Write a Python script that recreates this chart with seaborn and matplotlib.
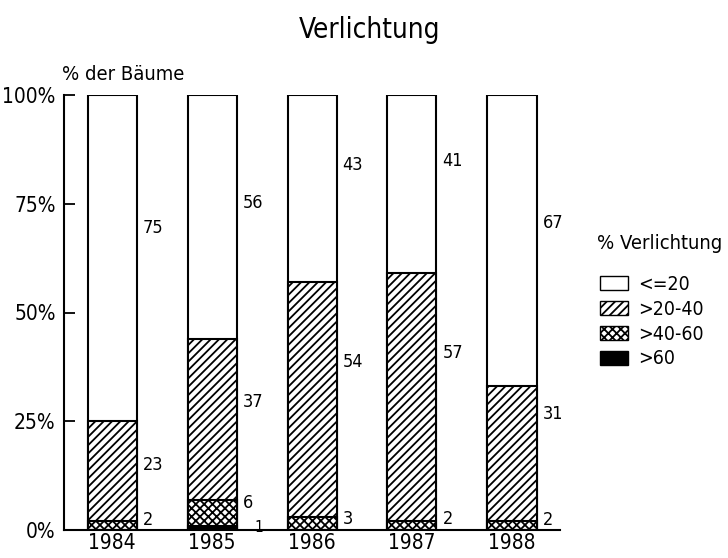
import pandas as pd
import matplotlib.pyplot as plt
import seaborn as sns
from matplotlib.patches import Patch

sns.set_theme(style="ticks")
plt.rcParams['font.family'] = ['DejaVu Sans']
plt.rcParams['font.stretch'] = 'condensed'
plt.rcParams['text.color'] = 'black'
plt.rcParams['xtick.color'] = 'black'
plt.rcParams['ytick.color'] = 'black'
plt.rcParams['hatch.linewidth'] = 1.3
plt.rcParams['hatch.color'] = 'black'

YEARS = ['1984', '1985', '1986', '1987', '1988']
CLASSES = ['<=20', '>20-40', '>40-60', '>60']
# % der Bäume je Verlichtungsstufe
LE20 = [75, 56, 43, 41, 67]
P20_40 = [23, 37, 54, 57, 31]
P40_60 = [2, 6, 3, 2, 2]
GT60 = [0, 1, 0, 0, 0]

# Höhe der Zahlen-Beschriftungen (in %), wie im Original frei gesetzt
LABEL_Y_LE20 = [69.4, 75.2, 83.9, 84.8, 70.6]
LABEL_Y_20_40 = [15.0, 29.4, 38.6, 40.7, 26.7]
LABEL_Y_40_60 = [2.3, 6.2, 2.6, 2.6, 2.3]
LABEL_Y_GT60 = [0.6, 0.6, 0.6, 0.6, 0.6]

df = pd.DataFrame({'Jahr': YEARS, '<=20': LE20, '>20-40': P20_40,
                   '>40-60': P40_60, '>60': GT60})
# kumulierte Höhen fuer gestapelte Balken
df['c60'] = df['>60']
df['c40'] = df['c60'] + df['>40-60']
df['c20'] = df['c40'] + df['>20-40']
df['c0'] = df['c20'] + df['<=20']

fig = plt.figure(figsize=(7.28, 5.58), dpi=100)
ax = fig.add_axes([64 / 728, 28 / 558, 496 / 728, 435 / 558])

bar_w = 0.49
layers = [('c0', 'white', ''), ('c20', 'white', '////'),
          ('c40', 'white', 'xxxx'), ('c60', 'black', '')]
for col, fc, hatch in layers:
    sns.barplot(data=df, x='Jahr', y=col, color=fc, width=bar_w,
                edgecolor='black', linewidth=1.5, hatch=hatch,
                saturation=1, ax=ax)

ax.set_xlim(-0.48, 4.48)
ax.set_ylim(0, 100)
ax.set_yticks([0, 25, 50, 75, 100])
ax.set_yticklabels(['0%', '25%', '50%', '75%', '100%'], fontsize=15)
ax.tick_params(axis='y', direction='in', length=8, width=1.3, pad=6)
ax.tick_params(axis='x', length=0, labelsize=15, pad=2)
ax.set_xlabel('')
ax.set_ylabel('')
sns.despine(ax=ax)
for s in ['left', 'bottom']:
    ax.spines[s].set_linewidth(1.5)
    ax.spines[s].set_color('black')

# Zahlen rechts neben den Balken
for i in range(len(YEARS)):
    xl = i + bar_w / 2 + 0.06
    ax.text(xl, LABEL_Y_LE20[i], str(LE20[i]), fontsize=13, va='center')
    ax.text(xl, LABEL_Y_20_40[i], str(P20_40[i]), fontsize=13, va='center')
    ax.text(xl, LABEL_Y_40_60[i], str(P40_60[i]), fontsize=13, va='center')
    if GT60[i] > 0:
        ax.text(xl + 0.12, LABEL_Y_GT60[i], str(GT60[i]), fontsize=11,
                va='center')

fig.text(370 / 728, 1 - 30 / 558, 'Verlichtung', ha='center', va='center',
         fontsize=20)
fig.text(62 / 728, 1 - 75 / 558, '% der Bäume', ha='left', va='center',
         fontsize=14.5)
fig.text(597 / 728, 1 - 243 / 558, '% Verlichtung', ha='left',
         va='center', fontsize=14.5)

handles = [Patch(facecolor='white', edgecolor='black', label=CLASSES[0]),
           Patch(facecolor='white', edgecolor='black', hatch='////',
                 label=CLASSES[1]),
           Patch(facecolor='white', edgecolor='black', hatch='xxxx',
                 label=CLASSES[2]),
           Patch(facecolor='black', edgecolor='black', label=CLASSES[3])]
leg = fig.legend(handles=handles, loc='upper left',
                 bbox_to_anchor=(600 / 728, 1 - 275 / 558), frameon=False,
                 fontsize=14, handlelength=1.45, handleheight=0.75,
                 labelspacing=0.3, handletextpad=0.5,
                 borderaxespad=0, borderpad=0)

fig.savefig('out.png', dpi=100)
